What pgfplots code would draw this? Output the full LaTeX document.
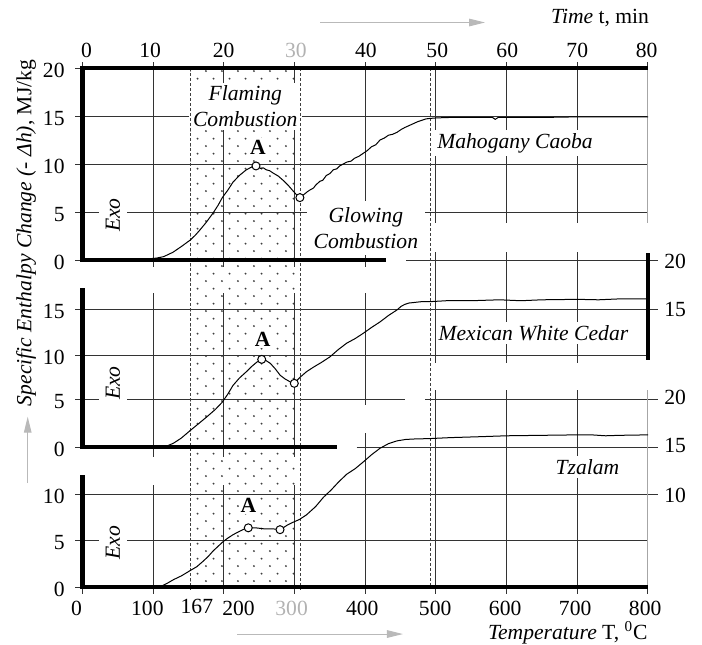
\documentclass[border=0pt]{standalone}
\usepackage{fontspec}
\setmainfont{Liberation Serif}
\usepackage{pgfplots}
\pgfplotsset{compat=1.18}
\usetikzlibrary{patterns,arrows.meta}

% staggered dot fill of the combustion zone
\pgfdeclarepatternformonly{stipple}{\pgfqpoint{0pt}{0pt}}{\pgfqpoint{7.8pt}{7.7pt}}{\pgfqpoint{7.8pt}{7.7pt}}{%
  \pgfpathcircle{\pgfqpoint{1.5pt}{1.5pt}}{0.55pt}%
  \pgfpathcircle{\pgfqpoint{5.4pt}{5.35pt}}{0.55pt}%
  \pgfusepath{fill}}

\pgfplotsset{
  panel/.style={scale only axis, hide axis, clip=false,
    xmin=0, xmax=800, ymin=0, ymax=20, width=282.85pt, anchor=south west},
  curve/.style={black, line width=0.5pt, mark=none},
  pt/.style={only marks, mark=*, mark size=2pt,
    mark options={fill=white, draw=black, line width=0.5pt}},
}

\begin{document}
\begin{tikzpicture}[font=\fontsize{10.8}{13}\selectfont,
  grid/.style={black!80, line width=0.5pt},
  thick axis/.style={black, line width=2.2pt},
  zone/.style={black!75, line width=0.45pt, dash pattern=on 1.5pt off 1pt},
  lab/.style={fill=white, inner sep=1.5pt},
  arr/.style={gray!55, line width=0.5pt, -{Triangle[length=8pt,width=3.8pt]}}]

% frame: x in degC, y in picture rows (0 at top)
\begin{axis}[scale only axis, hide axis, clip=false,
  at={(0pt,0pt)}, anchor=north west, width=351pt, height=322pt,
  xmin=-116.39, xmax=876.39, ymin=0, ymax=644, y dir=reverse]
\path (axis cs:-116.39,0) rectangle (axis cs:876.39,644);

\addplot[draw=none, pattern=stipple, pattern color=black!75]
  coordinates {(153,68) (308,68) (308,587) (153,587)} -- cycle;

% horizontal grid
\draw[grid] (axis cs:0,116.7) -- (axis cs:800,116.7);
\draw[grid] (axis cs:0,164.3) -- (axis cs:800,164.3);
\draw[grid] (axis cs:0,212.5) -- (axis cs:800,212.5);
\draw[grid] (axis cs:458,260) -- (axis cs:814.2,260);
\draw[grid] (axis cs:0,309) -- (axis cs:814.2,309);
\draw[grid] (axis cs:0,355.5) -- (axis cs:800,355.5);
\draw[grid] (axis cs:0,399.5) -- (axis cs:456.4,399.5);
\draw[grid] (axis cs:484.7,399.5) -- (axis cs:814.2,399.5);
\draw[grid] (axis cs:388,447) -- (axis cs:814.2,447);
\draw[grid] (axis cs:0,494.5) -- (axis cs:814.2,494.5);
\draw[grid] (axis cs:0,540.7) -- (axis cs:800,540.7);

% vertical grid
\pgfplotsinvokeforeach{100,200,300}{
  \draw[grid] (axis cs:#1,68) -- (axis cs:#1,267);
  \draw[grid] (axis cs:#1,293) -- (axis cs:#1,457);
  \draw[grid] (axis cs:#1,485) -- (axis cs:#1,594);
}
\draw[grid] (axis cs:400,68) -- (axis cs:400,267);
\draw[grid] (axis cs:400,293) -- (axis cs:400,405);
\draw[grid] (axis cs:400,433) -- (axis cs:400,594);
\pgfplotsinvokeforeach{500,600,700}{
  \draw[grid] (axis cs:#1,68) -- (axis cs:#1,223);
  \draw[grid] (axis cs:#1,252) -- (axis cs:#1,363);
  \draw[grid] (axis cs:#1,390) -- (axis cs:#1,594);
}
\draw[gray!70, line width=0.5pt] (axis cs:800,68) -- (axis cs:800,223);
\draw[gray!70, line width=0.5pt] (axis cs:800,390) -- (axis cs:800,587);

% tick marks
\pgfplotsinvokeforeach{0,100,...,800}{
  \draw[grid] (axis cs:#1,62) -- (axis cs:#1,68);
}
\draw[grid] (axis cs:0,587) -- (axis cs:0,594);
\draw[grid] (axis cs:800,587) -- (axis cs:800,594);
\pgfplotsinvokeforeach{68,116.7,164.3,212.5,260,309,355.5,399.5,447,494.5,540.7,587}{
  \draw[grid] (axis cs:-10.3,#1) -- (axis cs:0,#1);
}

% text boxes over the grid
\node[lab, align=center, inner xsep=2pt] at (axis cs:230.5,106.5) {\textit{Flaming}\\\textit{Combustion}};
\node[lab, align=center, inner xsep=3.5pt, inner ysep=3pt] at (axis cs:401,228) {\textit{Glowing}\\\textit{Combustion}};
\node[lab] at (axis cs:612,143.3) {\textit{Mahogany Caoba}};
\node[lab] at (axis cs:638,333) {\textit{Mexican White Cedar}};
\node[lab] at (axis cs:714.5,467) {\textit{Tzalam}};
\node[lab, rotate=90, inner xsep=2pt, inner ysep=3.5pt] at (axis cs:43.4,215) {\textit{Exo}};
\node[lab, rotate=90, inner xsep=2pt, inner ysep=3.5pt] at (axis cs:43.4,383) {\textit{Exo}};
\node[lab, rotate=90, inner xsep=2pt, inner ysep=3.5pt] at (axis cs:43.4,542.5) {\textit{Exo}};
\node[lab, inner sep=1pt] at (axis cs:248.5,147) {\textbf{A}};
\node[lab, inner sep=1pt] at (axis cs:255,339) {\textbf{A}};
\node[lab, inner sep=1pt] at (axis cs:234.8,505) {\textbf{A}};

% combustion zone borders
\draw[zone] (axis cs:153,68) -- (axis cs:153,590);
\draw[zone] (axis cs:308,68) -- (axis cs:308,590);
\draw[zone] (axis cs:493,68) -- (axis cs:493,587);

% heavy axis lines
\draw[thick axis] (axis cs:800,68) -- (axis cs:0,68) -- (axis cs:0,260) -- (axis cs:429.5,260);
\draw[thick axis] (axis cs:0,288) -- (axis cs:0,447) -- (axis cs:359.8,447);
\draw[thick axis] (axis cs:800,253) -- (axis cs:800,360);
\draw[thick axis] (axis cs:0,475) -- (axis cs:0,587) -- (axis cs:800,587);

% left tick labels
\node[anchor=east, inner sep=0pt] at (axis cs:-24.5,70) {20};
\node[anchor=east, inner sep=0pt] at (axis cs:-24.5,118.5) {15};
\node[anchor=east, inner sep=0pt] at (axis cs:-24.5,166.3) {10};
\node[anchor=east, inner sep=0pt] at (axis cs:-24.5,214.5) {5};
\node[anchor=east, inner sep=0pt] at (axis cs:-24.5,262) {0};
\node[anchor=east, inner sep=0pt] at (axis cs:-24.5,311) {15};
\node[anchor=east, inner sep=0pt] at (axis cs:-24.5,357.5) {10};
\node[anchor=east, inner sep=0pt] at (axis cs:-24.5,401.5) {5};
\node[anchor=east, inner sep=0pt] at (axis cs:-24.5,449) {0};
\node[anchor=east, inner sep=0pt] at (axis cs:-24.5,496.5) {10};
\node[anchor=east, inner sep=0pt] at (axis cs:-24.5,542.7) {5};
\node[anchor=east, inner sep=0pt] at (axis cs:-24.5,589) {0};

% right tick labels
\node[anchor=west, inner sep=0pt] at (axis cs:822.6,261.5) {20};
\node[anchor=west, inner sep=0pt] at (axis cs:822.6,309) {15};
\node[anchor=west, inner sep=0pt] at (axis cs:822.6,397.7) {20};
\node[anchor=west, inner sep=0pt] at (axis cs:822.6,445) {15};
\node[anchor=west, inner sep=0pt] at (axis cs:822.6,495) {10};

% time axis (top)
\node at (axis cs:6,50) {0};
\node at (axis cs:96,50) {10};
\node at (axis cs:200,50) {20};
\node[text=gray!60] at (axis cs:302,50) {30};
\node at (axis cs:401,50) {40};
\node at (axis cs:502,50) {50};
\node at (axis cs:601,50) {60};
\node at (axis cs:700,50) {70};
\node at (axis cs:798,50) {80};
\node[anchor=east, inner sep=0pt] at (axis cs:802,18) {\textit{Time} t, min};
\draw[arr] (axis cs:336.2,22.5) -- (axis cs:569.5,22.5);

% temperature axis (bottom)
\node at (axis cs:-8,608) {0};
\node at (axis cs:92,608) {100};
\node at (axis cs:162,606) {167};
\node at (axis cs:221,608) {200};
\node[text=gray!60] at (axis cs:296,608) {300};
\node at (axis cs:396,608) {400};
\node at (axis cs:499,608) {500};
\node at (axis cs:598,608) {600};
\node at (axis cs:697,608) {700};
\node at (axis cs:796,608) {800};
\node[anchor=east, inner sep=0pt] at (axis cs:800,633) {\textit{Temperature} T, \textsuperscript{0}C};
\draw[arr] (axis cs:218.8,634) -- (axis cs:453.5,634);

% enthalpy axis title
\node[rotate=90, inner sep=0pt] at (axis cs:-79.6,233) {\textit{Specific Enthalpy Change (- Δh)}, MJ/kg};
\draw[arr] (axis cs:-77.2,483) -- (axis cs:-77.2,416.7);
\end{axis}

% Mahogany Caoba
\begin{axis}[panel, at={(41.15pt,-130pt)}, height=96pt]
\addplot[curve] coordinates {
(70,0.05) (90,0.1) (105,0.2) (115,0.35) (128,0.8) (140,1.4) (153,2.1) (160,2.6)
(166,3.1) (175,3.9) (185,4.9) (192,5.7) (198,6.5) (206,7.3) (213,8.1) (222,8.8)
(232,9.4) (240,9.7) (246,9.85) (249,9.7) (252,9.55) (256,9.6) (260,9.4) (265,9.3)
(270,9.05) (277,8.75) (284,8.3) (291,7.8) (298,7.2) (304,6.7) (308,6.5) (313,6.8)
(318,7.1) (322,7.3) (327,7.5) (330,7.8) (336,8.2) (340,8.3) (345,8.8) (350,9.0)
(355,9.4) (360,9.5) (364,9.8) (369,10.0) (374,10.2) (380,10.3) (385,10.6) (391,10.8)
(397,11.1) (403,11.4) (409,11.8) (415,12.0) (421,12.5) (427,12.7) (433,13.0) (439,13.1)
(445,13.3) (451,13.6) (456,13.8) (462,14.0) (468,14.2) (474,14.4) (480,14.55) (486,14.7)
(492,14.75) (500,14.8) (520,14.85) (560,14.85) (580,14.85) (584,14.65) (588,14.85)
(600,14.85) (650,14.85) (690,14.9) (800,14.9)
};
\addplot[pt] coordinates {(245.6,9.8) (307.7,6.5)};
\end{axis}

% Mexican White Cedar
\begin{axis}[panel, at={(41.15pt,-223.65pt)}, height=92.2pt]
\addplot[curve] coordinates {
(112,0) (120,0.15) (129,0.45) (140,1.0) (153,1.85) (165,2.6) (176,3.3) (188,4.1)
(198,4.9) (206,5.8) (213,6.7) (222,7.5) (232,8.2) (240,8.8) (247,9.25) (254,9.5)
(260,9.4) (266,9.1) (273,8.5) (280,7.8) (287,7.4) (294,7.1) (299,6.9) (304,7.3)
(308,7.6) (317,8.2) (327,8.7) (338,9.2) (350,9.8) (362,10.6) (374,11.3) (386,11.8)
(397,12.35) (409,13.0) (421,13.6) (433,14.3) (445,14.9) (451,15.3) (456,15.5)
(462,15.65) (468,15.7) (480,15.8) (492,15.8) (515,15.9) (550,15.9) (590,16.0)
(620,15.9) (650,16.0) (700,16.05) (730,16.0) (760,16.1) (800,16.1)
};
\addplot[pt] coordinates {(253.7,9.54) (299.8,6.94)};
\end{axis}

% Tzalam
\begin{axis}[panel, at={(41.15pt,-293.5pt)}, height=92.5pt]
\addplot[curve] coordinates {
(105,0) (112,0.1) (120,0.4) (129,0.8) (140,1.2) (153,1.8) (162,2.2) (171,2.8)
(178,3.3) (185,3.9) (192,4.4) (199,4.9) (206,5.3) (213,5.65) (223,6.05) (230,6.3)
(235,6.4) (245,6.4) (256,6.3) (268,6.3) (280,6.2) (290,6.7) (298,7.0) (307,7.3)
(317,7.8) (330,8.7) (341,9.7) (352,10.5) (363,11.4) (374,12.2) (386,12.8) (397,13.5)
(409,14.3) (421,15.0) (433,15.5) (445,15.8) (457,15.95) (468,16.0) (492,16.05)
(520,16.15) (562,16.25) (600,16.35) (650,16.4) (700,16.45) (720,16.45) (740,16.35)
(760,16.4) (800,16.45)
};
\addplot[pt] coordinates {(234.7,6.4) (279.6,6.2)};
\end{axis}
\end{tikzpicture}
\end{document}
